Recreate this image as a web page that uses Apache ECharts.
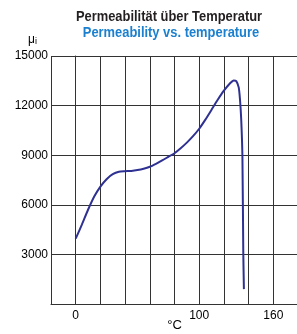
<!DOCTYPE html>
<html>
<head>
<meta charset="utf-8">
<script src="https://cdn.jsdelivr.net/npm/echarts@6/dist/echarts.min.js"></script>
<style>
html,body{margin:0;padding:0;background:#fff;}
#chart{width:297px;height:334px;}
</style>
</head>
<body>
<div id="chart"></div>
<script>
// temperature in °C
var temps = [0, 5, 10, 15, 20, 25, 30, 35, 40, 45, 50, 55, 60, 65, 70, 75, 80, 85, 90, 95, 100, 105, 110, 115, 120, 125, 128, 130, 132, 133, 134, 135, 135.7, 136.2];
// initial permeability µi
var mu = [3950, 4800, 5700, 6500, 7100, 7550, 7850, 8000, 8030, 8050, 8100, 8180, 8300, 8480, 8680, 8900, 9120, 9420, 9760, 10150, 10600, 11150, 11750, 12350, 12900, 13350, 13520, 13480, 13100, 12400, 11200, 8900, 3100, 900];
var xLabels = [0, 100, 160];

var myChart = echarts.init(document.getElementById('chart'));
var gridColor = '#333';
// no condensed font installed, so the bold titles are squeezed horizontally
var titleFont = 'bold 15px "Liberation Sans", Arial, sans-serif';
var option = {
    animation: false,
    graphic: [
        {
            type: 'text', x: 169, y: 17, scaleX: 0.86,
            style: {text: 'Permeabilität über Temperatur', font: titleFont, fill: '#231f20', align: 'center', verticalAlign: 'middle'}
        },
        {
            type: 'text', x: 171, y: 33, scaleX: 0.86,
            style: {text: 'Permeability vs. temperature', font: titleFont, fill: '#1b80cf', align: 'center', verticalAlign: 'middle'}
        },
        {
            type: 'text', left: 28, top: 34,
            style: {
                text: '{a|μ}{b|i}',
                rich: {
                    a: {fontFamily: 'Liberation Sans', fontSize: 12, fill: '#000'},
                    b: {fontFamily: 'Liberation Sans', fontSize: 9, fill: '#000', padding: [4, 0, 0, 0]}
                }
            }
        }
    ],
    grid: {left: 51, right: -1, top: 56, bottom: 30, outerBoundsMode: 'none'},
    xAxis: {
        type: 'value',
        min: -20, max: 180, interval: 20,
        name: '°C', nameLocation: 'middle', nameGap: 15, nameMoveOverlap: false,
        nameTextStyle: {fontFamily: 'Liberation Sans', fontSize: 13, color: '#000'},
        axisLine: {lineStyle: {color: gridColor, width: 1}},
        axisTick: {show: false},
        axisLabel: {
            fontFamily: 'Liberation Sans', fontSize: 12, color: '#000', margin: 6,
            formatter: function (v) { return xLabels.indexOf(v) >= 0 ? String(v) : ''; }
        },
        splitLine: {show: true, lineStyle: {color: gridColor, width: 1}}
    },
    yAxis: {
        type: 'value',
        min: 0, max: 15000, interval: 3000,
        axisLine: {show: true, lineStyle: {color: gridColor, width: 1}},
        axisTick: {show: false},
        axisLabel: {
            fontFamily: 'Liberation Sans', fontSize: 12, color: '#000', margin: 3,
            formatter: function (v) { return v === 0 ? '' : String(v); }
        },
        splitLine: {show: true, lineStyle: {color: gridColor, width: 1}}
    },
    series: [{
        type: 'line',
        data: temps.map(function (t, i) { return [t, mu[i]]; }),
        showSymbol: false,
        smooth: 0.2,
        lineStyle: {color: '#2e3192', width: 2}
    }]
};
myChart.setOption(option);
</script>
</body>
</html>
